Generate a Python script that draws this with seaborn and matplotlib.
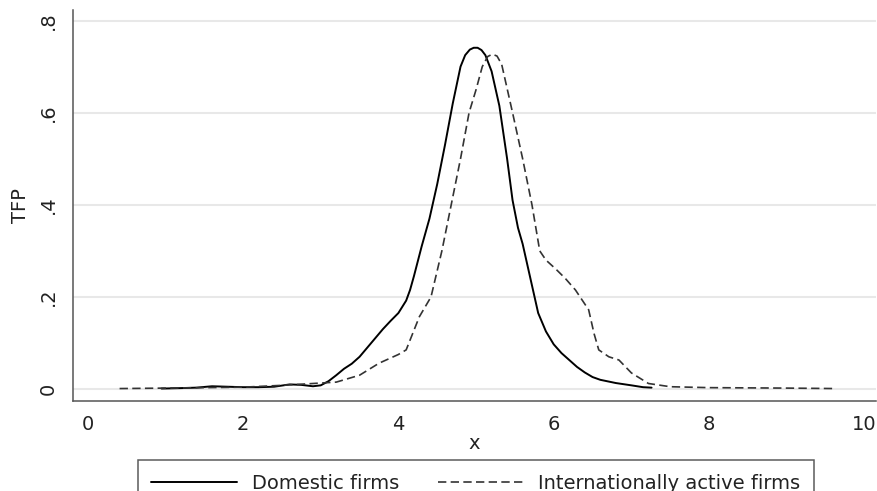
import numpy as np
import pandas as pd
import seaborn as sns
import matplotlib
matplotlib.use("Agg")
import matplotlib.pyplot as plt
from matplotlib.lines import Line2D

# Kernel density of TFP by firm type
dom_x = [0.95, 1.2, 1.4, 1.6, 1.8, 2.0, 2.2, 2.4, 2.6, 2.75, 2.9, 3.0, 3.1, 3.2, 3.3,
         3.4, 3.5, 3.6, 3.7, 3.8, 3.9, 4.0, 4.1, 4.15, 4.2, 4.3, 4.4, 4.5, 4.6, 4.7, 4.8,
         4.86, 4.92, 4.97, 5.02, 5.07, 5.12, 5.2, 5.3, 5.4, 5.47, 5.54, 5.6, 5.7, 5.8,
         5.9, 6.0, 6.1, 6.2, 6.3, 6.4, 6.5, 6.6, 6.8, 7.0, 7.15, 7.26]
dom_y = [0.001, 0.002, 0.003, 0.006, 0.005, 0.004, 0.004, 0.005, 0.010, 0.009, 0.006,
         0.008, 0.017, 0.030, 0.044, 0.055, 0.070, 0.090, 0.110, 0.130, 0.148, 0.165,
         0.192, 0.215, 0.245, 0.310, 0.370, 0.445, 0.530, 0.620, 0.700, 0.725, 0.737,
         0.741, 0.741, 0.736, 0.725, 0.690, 0.615, 0.500, 0.410, 0.350, 0.315, 0.240,
         0.165, 0.125, 0.097, 0.078, 0.063, 0.048, 0.036, 0.026, 0.020, 0.013, 0.008,
         0.004, 0.003]

intl_x = [0.41, 1.0, 1.5, 2.0, 2.5, 2.8, 3.0, 3.2, 3.5, 3.75, 4.0, 4.1, 4.27, 4.42,
          4.56, 4.68, 4.8, 4.91, 5.0, 5.08, 5.15, 5.21, 5.27, 5.33, 5.47, 5.6, 5.72,
          5.82, 5.9, 6.03, 6.15, 6.28, 6.45, 6.52, 6.58, 6.71, 6.84, 7.0, 7.22, 7.5,
          8.0, 9.0, 9.63]
intl_y = [0.001, 0.002, 0.003, 0.004, 0.008, 0.011, 0.013, 0.015, 0.030, 0.056, 0.075,
          0.085, 0.157, 0.200, 0.300, 0.400, 0.500, 0.600, 0.650, 0.700, 0.722, 0.727,
          0.723, 0.705, 0.600, 0.500, 0.400, 0.300, 0.280, 0.260, 0.240, 0.215, 0.172,
          0.120, 0.085, 0.070, 0.063, 0.035, 0.012, 0.005, 0.003, 0.002, 0.001]

labels = ["Domestic firms", "Internationally active firms"]
x_ticks = [0, 2, 4, 6, 8, 10]
y_ticks = [0, 0.2, 0.4, 0.6, 0.8]
y_tick_labels = ["0", ".2", ".4", ".6", ".8"]

df = pd.concat([
    pd.DataFrame({"x": dom_x, "TFP": dom_y, "group": labels[0]}),
    pd.DataFrame({"x": intl_x, "TFP": intl_y, "group": labels[1]}),
])

sns.set_theme(style="white")
plt.rcParams["font.family"] = ["DejaVu Sans"]
FS = 14

fig = plt.figure(figsize=(8.78, 4.91), dpi=100)
ax = fig.add_axes([73 / 878, (491 - 401) / 491, (876 - 73) / 878, (401 - 10) / 491])

sns.lineplot(data=df[df.group == labels[0]], x="x", y="TFP", ax=ax,
             color="black", lw=1.4, estimator=None, sort=True)
sns.lineplot(data=df[df.group == labels[1]], x="x", y="TFP", ax=ax,
             color="#333333", lw=1.2, estimator=None, sort=True)
ax.lines[1].set_dashes((5, 2.6))

ax.set_xlim(-0.19, 10.15)
ax.set_ylim(-0.026, 0.823)
ax.set_xticks(x_ticks)
ax.set_yticks(y_ticks)
ax.set_yticklabels(y_tick_labels, rotation=90, va="center")

for yv in y_ticks:
    ax.axhline(yv, color="#e8e8e8", lw=1.5, zorder=0)

for s in ["top", "right"]:
    ax.spines[s].set_visible(False)
for s in ["left", "bottom"]:
    ax.spines[s].set_color("#555555")
    ax.spines[s].set_linewidth(1.1)

ax.tick_params(axis="both", which="major", direction="out", length=7, width=1.1,
               color="#555555", labelsize=FS, labelcolor="#222222")
ax.tick_params(axis="x", pad=3)
ax.tick_params(axis="y", pad=4)
ax.set_xlabel("x", fontsize=FS, color="#222222", labelpad=0)
ax.set_ylabel("TFP", fontsize=FS, color="#222222", labelpad=6)

handles = [Line2D([], [], color="black", lw=1.4),
           Line2D([], [], color="#333333", lw=1.2, dashes=(5, 2.6))]
leg = fig.legend(handles, labels, loc="upper center", bbox_to_anchor=(0.542, (491 - 460) / 491),
                 ncol=2, fontsize=FS, frameon=True, fancybox=False, handlelength=4.4,
                 handletextpad=0.77, columnspacing=2.0, borderpad=0.7, borderaxespad=0)
leg.get_frame().set_edgecolor("#333333")
leg.get_frame().set_linewidth(1.1)
for t in leg.get_texts():
    t.set_color("#222222")

fig.savefig("out.png", dpi=100)
